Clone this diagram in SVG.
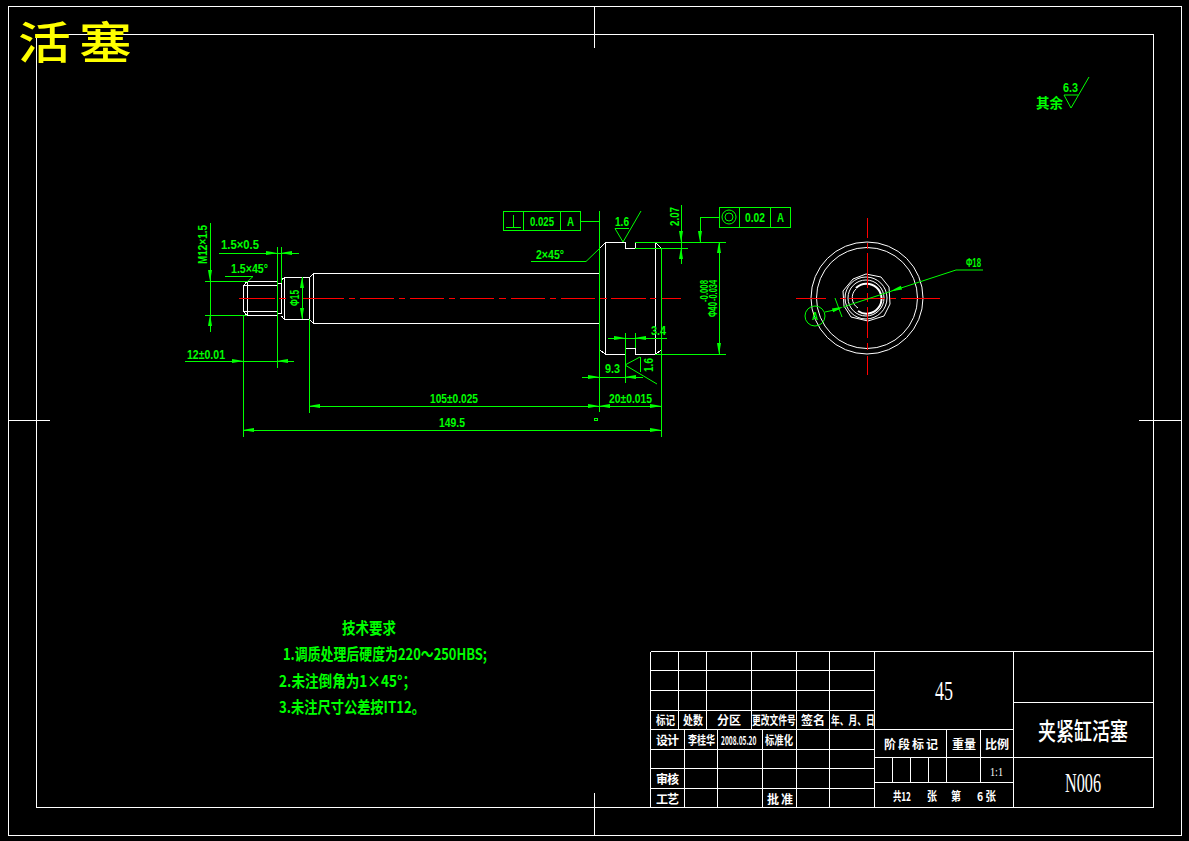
<svg xmlns="http://www.w3.org/2000/svg" xmlns:xlink="http://www.w3.org/1999/xlink" width="1189" height="841" viewBox="0 0 1189 841">
<style>
.w{fill:none;stroke:#fff;stroke-width:1}
.g{fill:none;stroke:#00ff00;stroke-width:1}
.r{fill:none;stroke:#ff0000;stroke-width:1}
.a{fill:#00ff00;stroke:none}
text{font-family:"Noto Sans CJK SC","Liberation Sans",sans-serif;font-weight:700}
.tg{fill:#00ff00;font-size:13px;font-family:"Liberation Sans","Noto Sans CJK SC",sans-serif}
.tw{fill:#fff;font-size:12px;font-weight:700}
.tb{fill:#fff;font-size:27px;font-family:"Liberation Serif","Noto Sans CJK SC",serif;font-weight:400}
.tr{fill:#00ff00;font-size:16px;font-weight:700}
.ty{fill:#ffff00;font-size:44px;font-weight:500}
</style>
<defs><path id="ar" d="M0 0L-5 -1L-11 -2L-11 2L-5 1Z"/></defs>
<rect width="1189" height="841" fill="#000"/>
<g id="frame" shape-rendering="crispEdges">
<path class="w" d="M8.500 6.500H1181.500V835.500H8.500ZM36.500 34.500H1153.500V807.500H36.500ZM594.500 6.500V48M594.500 793V835.500M8.500 420.500H50M1139 420.500H1181.500"/>
</g>
<g id="title"><text class="ty" transform="translate(18,59) scale(1.2,1)">活</text><text class="ty" transform="translate(79,59) scale(1.2,1)">塞</text></g>
<g id="part-front" shape-rendering="crispEdges">
<path class="w" d="M247 281.500H277.500V315.500H247L243.500 311.500V285.500L247 281.500ZM243.500 285.500H277.500M243.500 311.500H277.500M247.500 281.500V315.500M277.500 283.500H281.500M277.500 313.500H281.500M281.500 283.500V313.500"/>
<path class="w" d="M281.500 280L284.500 277.500H309.500L313.500 273.500H599.500M281.500 316L284.500 319.500H309.500L313.500 323.500H599.500M284.500 277.500V319.500M309.500 277.500V319.500M313.500 273.500V323.500"/>
<path class="w" d="M599.500 248.500V349.500L605.500 354.500H625.500V348.500H635.500V354.500H655.500L661.500 349.500M599.500 248.500L605.500 242.500H625.500V248.500H635.500V242.500H655.500L661.500 248.500V349.500M605.500 242.500V354.500M655.500 242.500V354.500"/>
<path class="r" d="M239 298.500H275M279 298.500H286M303 298.500H344M349 298.500H355M360 298.500H394M399 298.500H405M410 298.500H444M449 298.500H455M460 298.500H494M499 298.500H506M511 298.500H545M550 298.500H556M561 298.500H595M600 298.500H607M611 298.500H646M650 298.500H656M661 298.500H681"/>
</g>
<g id="part-side">
<circle class="w" cx="867" cy="298" r="56"/>
<circle class="w" cx="867" cy="298" r="50.500"/>
<path class="w" d="M853 279L866 274L881 277L889 287L890 304L884 316L868 321L851 317L844 306L843 291Z"/>
<circle class="w" cx="866" cy="298" r="21"/>
<circle class="w" cx="866" cy="298" r="18"/>
<path class="w" d="M856 288A15 15 0 1 1 858 311" style="stroke-width:2"/>
<path class="w" d="M856 289A12 12 0 0 0 858 308"/>
<path class="r" shape-rendering="crispEdges" d="M796 298.500H826M840 298.500H846M849 298.500H885M890 298.500H896M901 298.500H940M867.500 218V238M867.500 243V249M867.500 253V288M867.500 293V302M867.500 307V338M867.500 343V350M867.500 356V375"/>
</g>
<g id="dimensions">
<g shape-rendering="crispEdges">
<path class="g" d="M210.500 223V332M205 281.500H247M205 315.500H247M219 253.500H299M277.500 247V368M281.500 247V283M302.500 277V319M309.500 319V413M243.500 315V437M185 361.500H294M309 406.500H661M243 430.500H661M225 276.500H253"/>
<path class="g" d="M599.500 211V412M503.500 211.500H580.500V230.500H503.500ZM523.500 211V230M560.500 211V230M580 221.500H599M513.500 215V227M506 227.500H521"/>
<path class="g" d="M531 261.500H586M635 242.500H726M635 248.500H688M655 354.500H726M719.500 242V354M681.500 205V264M661.500 248V437"/>
<path class="g" d="M719.500 207.500H790.500V227.500H719.500ZM739.500 207V227M770.500 207V227M719 217.500H700.500V242"/>
<path class="g" d="M608 338.500H667M625.500 333V383M635.500 333V348M582 377.500H643M640.500 357V372M615 228.500H629"/>
<rect class="g" x="594.500" y="418.500" width="3" height="2"/>
</g>
<path class="g" d="M253 276.500L247 282M586 261.500L600 248M623 242L615 228.500M623 242L641 211M640 357L625 365L657 384"/>
<circle class="g" cx="729" cy="217" r="7"/><circle class="g" cx="729" cy="217" r="4"/>
<path class="g" d="M843 307L956 270H983M825 312L839 309M835 298L842 317"/>
<circle class="g" cx="815" cy="316" r="10"/>
<g class="a">
<use xlink:href="#ar" transform="translate(210,281) rotate(90)"/>
<use xlink:href="#ar" transform="translate(210,315) rotate(-90)"/>
<use xlink:href="#ar" transform="translate(277,253)"/>
<use xlink:href="#ar" transform="translate(281,253) rotate(180)"/>
<use xlink:href="#ar" transform="translate(302,277) rotate(-90)"/>
<use xlink:href="#ar" transform="translate(302,319) rotate(90)"/>
<use xlink:href="#ar" transform="translate(243,361)"/>
<use xlink:href="#ar" transform="translate(277,361) rotate(180)"/>
<use xlink:href="#ar" transform="translate(309,406) rotate(180)"/>
<use xlink:href="#ar" transform="translate(599,406)"/>
<use xlink:href="#ar" transform="translate(599,406) rotate(180)"/>
<use xlink:href="#ar" transform="translate(661,406)"/>
<use xlink:href="#ar" transform="translate(243,430) rotate(180)"/>
<use xlink:href="#ar" transform="translate(661,430)"/>
<use xlink:href="#ar" transform="translate(681,242) rotate(90)"/>
<use xlink:href="#ar" transform="translate(681,248) rotate(-90)"/>
<use xlink:href="#ar" transform="translate(700,242) rotate(90)"/>
<use xlink:href="#ar" transform="translate(719,242) rotate(-90)"/>
<use xlink:href="#ar" transform="translate(719,354) rotate(90)"/>
<use xlink:href="#ar" transform="translate(625,338)"/>
<use xlink:href="#ar" transform="translate(635,338) rotate(180)"/>
<use xlink:href="#ar" transform="translate(599,377)"/>
<use xlink:href="#ar" transform="translate(625,377) rotate(180)"/>
<use xlink:href="#ar" transform="translate(843,307) rotate(-18)"/>
<use xlink:href="#ar" transform="translate(891,291) rotate(162)"/>
</g>
<g>
<text class="tg" transform="translate(207,264) rotate(-90)" textLength="39" lengthAdjust="spacingAndGlyphs">M12×1.5</text>
<text class="tg" x="221" y="249" textLength="38" lengthAdjust="spacingAndGlyphs">1.5×0.5</text>
<text class="tg" x="231" y="273" textLength="37" lengthAdjust="spacingAndGlyphs">1.5×45°</text>
<text class="tg" transform="translate(299,306) rotate(-90)" textLength="16" lengthAdjust="spacingAndGlyphs">Φ15</text>
<text class="tg" x="187" y="359" textLength="38" lengthAdjust="spacingAndGlyphs">12±0.01</text>
<text class="tg" x="430" y="403" textLength="48" lengthAdjust="spacingAndGlyphs">105±0.025</text>
<text class="tg" x="609" y="403" textLength="43" lengthAdjust="spacingAndGlyphs">20±0.015</text>
<text class="tg" x="439" y="427" textLength="26" lengthAdjust="spacingAndGlyphs">149.5</text>
<text class="tg" x="536" y="259" textLength="28" lengthAdjust="spacingAndGlyphs">2×45°</text>
<text class="tg" x="530" y="226" textLength="24" lengthAdjust="spacingAndGlyphs">0.025</text>
<text class="tg" x="567" y="226" textLength="7" lengthAdjust="spacingAndGlyphs">A</text>
<text class="tg" x="615" y="226" textLength="14" lengthAdjust="spacingAndGlyphs">1.6</text>
<text class="tg" x="745" y="222" textLength="20" lengthAdjust="spacingAndGlyphs">0.02</text>
<text class="tg" x="777" y="222" textLength="7" lengthAdjust="spacingAndGlyphs">A</text>
<text class="tg" transform="translate(679,226) rotate(-90)" textLength="19" lengthAdjust="spacingAndGlyphs">2.07</text>
<text class="tg" transform="translate(717,317) rotate(-90)" textLength="15" lengthAdjust="spacingAndGlyphs">Φ40</text>
<text class="tg" transform="translate(708,302) rotate(-90)" textLength="22" lengthAdjust="spacingAndGlyphs" style="font-size:10px">-0.008</text>
<text class="tg" transform="translate(717,301) rotate(-90)" textLength="21" lengthAdjust="spacingAndGlyphs" style="font-size:10px">-0.034</text>
<text class="tg" x="651" y="335" textLength="15" lengthAdjust="spacingAndGlyphs">3.4</text>
<text class="tg" x="605" y="373" textLength="15" lengthAdjust="spacingAndGlyphs">9.3</text>
<text class="tg" transform="translate(653,372) rotate(-90)" textLength="14" lengthAdjust="spacingAndGlyphs">1.6</text>
<text class="tg" x="966" y="267" textLength="15" lengthAdjust="spacingAndGlyphs">Φ18</text>
<text class="tg" x="812" y="320" textLength="6" lengthAdjust="spacingAndGlyphs" style="font-size:10px">A</text>
</g>
</g>
<g id="surface-note">
<text class="tr" x="1036" y="108" textLength="27" lengthAdjust="spacingAndGlyphs" style="font-size:14px">其余</text>
<text class="tg" x="1063" y="92" textLength="15" lengthAdjust="spacingAndGlyphs">6.3</text>
<path class="g" d="M1064 95H1078M1064 95L1071 108L1089 77"/>
</g>
<g id="tech-notes">
<text class="tr" x="342" y="634" textLength="54" lengthAdjust="spacingAndGlyphs">技术要求</text>
<text class="tr" x="283" y="660" textLength="204" lengthAdjust="spacingAndGlyphs">1.调质处理后硬度为220～250HBS;</text>
<text class="tr" x="279" y="687" textLength="137" lengthAdjust="spacingAndGlyphs">2.未注倒角为1×45°；</text>
<text class="tr" x="279" y="713" textLength="146" lengthAdjust="spacingAndGlyphs">3.未注尺寸公差按IT12。</text>
</g>
<g id="title-block">
<path class="w" shape-rendering="crispEdges" d="M650.500 651.500H1153.500M650.500 651.500V807.500M650.500 670.500H874.500M650.500 690.500H874.500M650.500 710.500H874.500M650.500 729.500H1013.500M650.500 749.500H874.500M650.500 768.500H874.500M650.500 788.500H874.500M678.500 651.500V729.500M706.500 651.500V729.500M751.500 651.500V729.500M796.500 651.500V807.500M829.500 651.500V807.500M684.500 729.500V807.500M717.500 729.500V807.500M762.500 729.500V807.500M874.500 651.500V807.500M1013.500 651.500V807.500M1013.500 702.500H1153.500M874.500 757.500H1153.500M874.500 782.500H1013.500M946.500 729.500V782.500M980.500 729.500V782.500M892.500 757.500V782.500M910.500 757.500V782.500M928.500 757.500V782.500"/>
<g>
<text class="tw" x="656" y="725" textLength="19" lengthAdjust="spacingAndGlyphs">标记</text>
<text class="tw" x="683" y="725" textLength="20" lengthAdjust="spacingAndGlyphs">处数</text>
<text class="tw" x="717" y="725" textLength="24" lengthAdjust="spacing">分 区</text>
<text class="tw" transform="translate(752,725) scale(.73,1)">更改文件号</text>
<text class="tw" x="801" y="725" textLength="24" lengthAdjust="spacing">签 名</text>
<text class="tw" transform="translate(831,725) scale(.73,1)">年、月、日</text>
<text class="tw" x="656" y="745" textLength="23" lengthAdjust="spacing">设 计</text>
<text class="tw" x="688" y="745" textLength="27" lengthAdjust="spacingAndGlyphs">李桂华</text>
<text class="tw" transform="translate(721,745) scale(.55,1)">2008.05.20</text>
<text class="tw" x="765" y="745" textLength="28" lengthAdjust="spacingAndGlyphs">标准化</text>
<text class="tw" x="656" y="784" textLength="23" lengthAdjust="spacing">审 核</text>
<text class="tw" x="656" y="804" textLength="23" lengthAdjust="spacing">工 艺</text>
<text class="tw" x="767" y="804" textLength="26" lengthAdjust="spacing">批 准</text>
<text class="tw" x="884" y="749" textLength="54" lengthAdjust="spacing">阶 段 标 记</text>
<text class="tw" x="952" y="749" textLength="24" lengthAdjust="spacing">重 量</text>
<text class="tw" x="985" y="749" textLength="24" lengthAdjust="spacing">比 例</text>
<text class="tw" x="893" y="801" textLength="18" lengthAdjust="spacingAndGlyphs">共12</text>
<text class="tw" x="927" y="801" textLength="10" lengthAdjust="spacingAndGlyphs">张</text>
<text class="tw" x="951" y="801" textLength="10" lengthAdjust="spacingAndGlyphs">第</text>
<text class="tw" x="977" y="801" textLength="19" lengthAdjust="spacingAndGlyphs">6 张</text>
</g>
<text x="990" y="776" fill="#fff" style="font-family:'Liberation Serif',serif;font-size:13px;font-weight:400" textLength="13" lengthAdjust="spacingAndGlyphs">1:1</text>
<text class="tb" x="935" y="700" textLength="18" lengthAdjust="spacingAndGlyphs">45</text>
<text x="1038" y="740" fill="#fff" style="font-family:'Noto Sans CJK SC',serif;font-size:24px;font-weight:500" textLength="90" lengthAdjust="spacingAndGlyphs">夹紧缸活塞</text>
<text class="tb" x="1065" y="792" textLength="36" lengthAdjust="spacingAndGlyphs">N006</text>
</g>
</svg>
